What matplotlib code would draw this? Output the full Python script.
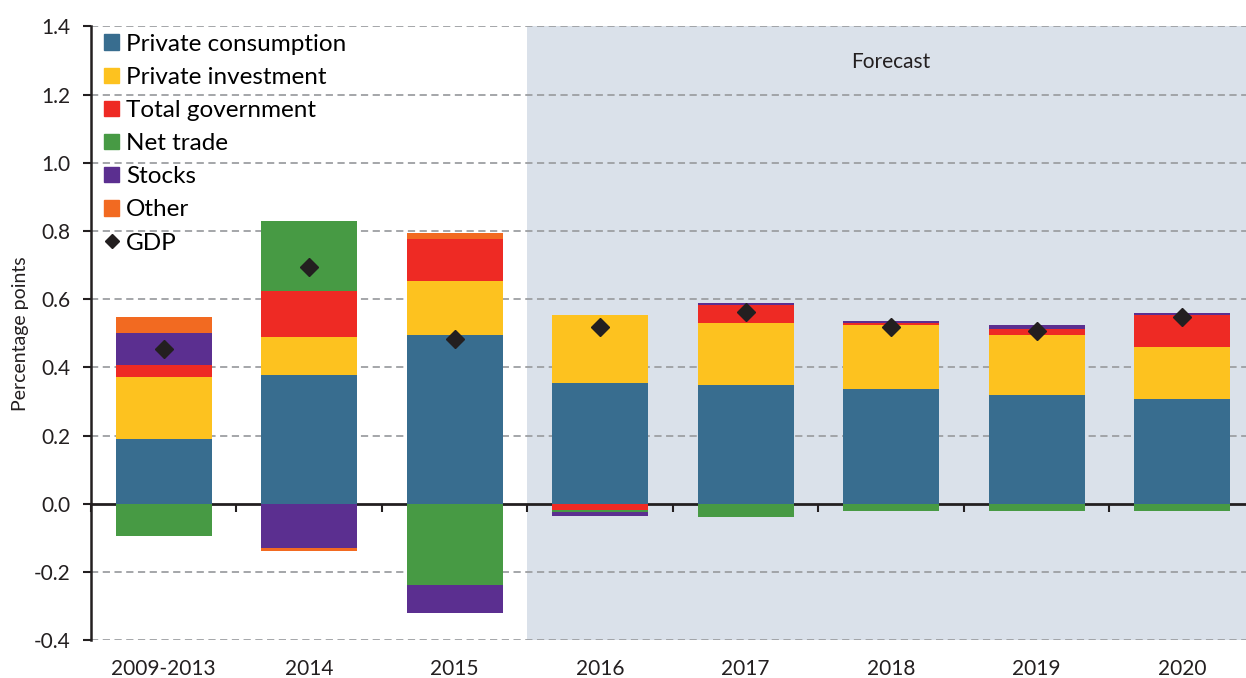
import matplotlib.pyplot as plt
import numpy as np
from matplotlib.patches import Patch
from matplotlib.lines import Line2D

plt.rcParams['font.family'] = ['Lato', 'DejaVu Sans']
plt.rcParams['axes.unicode_minus'] = False

categories = ['2009-2013', '2014', '2015', '2016', '2017', '2018', '2019', '2020']
private_consumption = [0.190, 0.377, 0.495, 0.354, 0.348, 0.336, 0.319, 0.307]
private_investment = [0.181, 0.112, 0.159, 0.200, 0.182, 0.188, 0.176, 0.153]
total_government = [0.037, 0.135, 0.122, -0.018, 0.053, 0.006, 0.018, 0.094]
net_trade = [-0.096, 0.205, -0.238, -0.007, -0.038, -0.021, -0.021, -0.021]
stocks = [0.093, -0.131, -0.082, -0.012, 0.006, 0.006, 0.011, 0.006]
other = [0.047, -0.007, 0.018, 0.0, 0.0, 0.0, 0.0, 0.0]
gdp = [0.454, 0.694, 0.483, 0.519, 0.561, 0.519, 0.508, 0.549]

series = [
    ('Private consumption', private_consumption, '#386d8f'),
    ('Private investment', private_investment, '#fdc21f'),
    ('Total government', total_government, '#ee2a24'),
    ('Net trade', net_trade, '#479a44'),
    ('Stocks', stocks, '#5b2f90'),
    ('Other', other, '#f26a21'),
]
text_col = '#231f20'

fig = plt.figure(figsize=(12.46, 6.78), dpi=100)
ax = fig.add_axes([0.073, 0.056, 0.934, 0.905])

x = np.arange(len(categories))
ymin, ymax = -0.4, 1.4

# forecast shading
ax.axvspan(2.5, 7.5, color='#dae1ea', zorder=0, lw=0)
ax.text(5.0, 1.296, 'Forecast', ha='center', va='center', fontsize=15, color=text_col)

pos_base = np.zeros(len(x))
neg_base = np.zeros(len(x))
for name, vals, col in series:
    v = np.array(vals)
    pos = np.where(v > 0, v, 0)
    neg = np.where(v < 0, v, 0)
    ax.bar(x, pos, 0.66, bottom=pos_base, color=col, zorder=2, lw=0)
    ax.bar(x, neg, 0.66, bottom=neg_base, color=col, zorder=2, lw=0)
    pos_base += pos
    neg_base += neg

ax.plot(x, gdp, 'D', color=text_col, markersize=9, zorder=4)

ax.set_xlim(-0.5, 7.5)
ax.set_ylim(ymin, ymax)
yt = np.arange(-0.4, 1.41, 0.2)
ax.set_yticks(yt)
ax.set_yticklabels([f'{t:.1f}' for t in yt])
for t in yt:
    if abs(t) > 1e-9:
        ax.axhline(t, color='#9d9fa2', lw=1.3, ls=(0, (4, 2.5)), zorder=1)

ax.set_xticks(x)
ax.set_xticklabels(categories)
ax.tick_params(axis='x', length=0, labelsize=15, pad=14, colors=text_col)
ax.tick_params(axis='y', length=6, width=1.5, labelsize=15, pad=9, colors=text_col)
for s in ['top', 'right', 'bottom']:
    ax.spines[s].set_visible(False)
ax.spines['left'].set_linewidth(1.8)
ax.spines['left'].set_color(text_col)

# zero axis with boundary ticks
sec = ax.secondary_xaxis((0 - ymin) / (ymax - ymin))
sec.set_xticks(np.arange(-0.5, 7.6, 1.0))
sec.set_xticklabels([])
sec.tick_params(length=6, width=1.5, colors=text_col)
sec.spines['bottom'].set_linewidth(2)
sec.spines['bottom'].set_color(text_col)

ax.set_ylabel('Percentage points', fontsize=14, color=text_col, labelpad=3)

handles = [Patch(color=c, label=n) for n, _, c in series]
handles.append(Line2D([], [], marker='D', color=text_col, ls='', markersize=7, label='GDP'))
ax.legend(handles=handles, loc='upper left', bbox_to_anchor=(0.0, 1.01), frameon=False,
          fontsize=17.5, handlelength=0.6, handleheight=0.6, handletextpad=0.3,
          labelspacing=0.5, borderaxespad=0.15)

fig.savefig('out.png', dpi=100)
